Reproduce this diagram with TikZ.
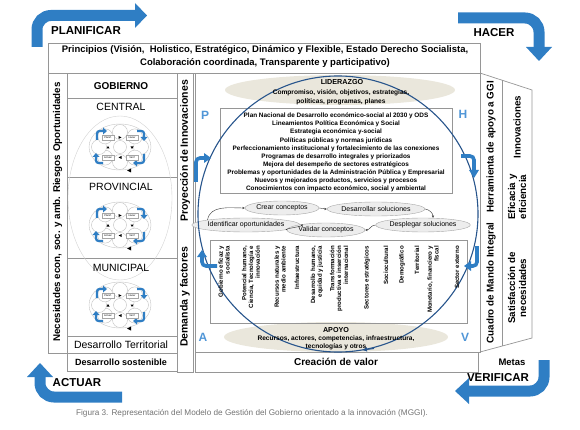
\documentclass[tikz,border=0pt]{standalone}
\usepackage{fontspec}
\setmainfont{Liberation Sans}
\usetikzlibrary{arrows.meta,shapes.geometric}
\definecolor{arrowblue}{RGB}{47,126,196}
\definecolor{letblue}{RGB}{80,150,215}
\definecolor{circblue}{RGB}{40,85,140}
\definecolor{beige}{RGB}{234,231,220}
\definecolor{procfill}{RGB}{237,237,237}
\definecolor{boxgray}{RGB}{150,150,150}
\definecolor{capgray}{RGB}{115,115,115}
\newcommand\fsz[2]{\fontsize{#1}{#2}\selectfont}
\newcommand\minicyc[3]{%
\begin{scope}[shift={(#2,#3)}]
 \draw[gray!45,line width=0.4pt,fill=white] (0,0) ellipse [x radius=31pt,y radius=23pt];
 \foreach \a in {0,45,...,315}
   \draw[gray!55,line width=0.35pt,fill=white] ({21*cos(\a)},{15*sin(\a)}) circle[radius=7.5pt];
 \draw[gray!55,line width=0.35pt,fill=white] (0,0) circle[radius=6.5pt];
 \draw[minihook] (-23,-7) -- (-23,-16) -- (-17,-16);
 \fill[arrowblue] (-17,-19.5) -- (-13,-16) -- (-17,-12.5) -- cycle;
 \draw[minihook] (17,-16) -- (24,-16) -- (24,-10);
 \fill[arrowblue] (20.5,-10) -- (24,-6) -- (27.5,-10) -- cycle;
 \draw[minihook] (24,7) -- (24,16) -- (17,16);
 \fill[arrowblue] (17,12.5) -- (13,16) -- (17,19.5) -- cycle;
 \draw[minihook] (-17,16) -- (-24,16) -- (-24,10);
 \fill[arrowblue] (-27.5,10) -- (-24,6) -- (-20.5,10) -- cycle;
 \node[minibox] (#1pl) at (-12,-9.5) {Planif.};
 \node[minibox] (#1ha) at (12,-9.5) {Hacer};
 \node[minibox] (#1ac) at (-12,10.5) {Actuar};
 \node[minibox] (#1ve) at (12,10.5) {Verif};
 \fill[black] (-1.5,-11) -- (1.5,-9.5) -- (-1.5,-8) -- cycle;
 \fill[black] (10.5,-0.5) -- (12,2) -- (13.5,-0.5) -- cycle;
 \fill[black] (1.5,9) -- (-1.5,10.5) -- (1.5,12) -- cycle;
 \fill[black] (-13.5,1.5) -- (-12,-1) -- (-10.5,1.5) -- cycle;
 \fill[black] (11,21.5) -- (7,23.5) -- (11,25.5) -- cycle;
\end{scope}}

\begin{document}
\begin{tikzpicture}[x=1pt,y=-1pt,
  frame/.style={draw=boxgray,line width=0.7pt},
  bigarrow/.style={draw=arrowblue,line width=11pt,rounded corners=14pt},
  hook/.style={draw=arrowblue,line width=3.6pt,rounded corners=4pt},
  minihook/.style={draw=arrowblue,line width=2.2pt,rounded corners=2.5pt},
  minibox/.style={draw=gray!70,fill=white,font=\fsz{2.6}{3},inner sep=0.5pt,minimum width=12pt,minimum height=5pt},
  phase/.style={font=\bfseries\fsz{11.5}{13},inner sep=0pt},
  vtext/.style={rotate=90,font=\bfseries\fsz{9.8}{11},inner sep=0pt},
  factor/.style={rotate=90,anchor=east,align=right,font=\bfseries\fsz{6.1}{6.8},inner sep=0pt},
  proc/.style={ellipse,draw=gray!70,fill=procfill,line width=0.4pt,inner sep=0pt,font=\fsz{7}{8}},
  parrow/.style={draw=black!80,line width=0.4pt,-{Stealth[length=2.5pt,width=2.2pt]}},
  lettr/.style={font=\bfseries\fsz{12}{14},text=letblue,inner sep=0pt}
]
\useasboundingbox (0,0) rectangle (580,430);

% ---------- frames ----------
\draw[frame] (48,43) rectangle (480,73);
\draw[frame] (48,73) rectangle (67,353);
\draw[frame] (67,73) rectangle (177,353);
\draw[frame] (67,98) -- (177,98);
\draw[frame] (67,177) -- (177,177);
\draw[frame] (67,258) -- (177,258);
\draw[frame] (67,336) -- (177,336);
\draw[frame] (67,353) rectangle (177,371);
\draw[frame] (177,73) rectangle (193,372);
\draw[frame] (195,73) rectangle (480,352);
\draw[frame] (195,352) rectangle (478,372);
\draw[frame] (480,73) -- (532,90) -- (532,338) -- (480,352);
\draw[frame] (502,80.2) -- (502,346.1);

% ---------- government mini cycles ----------
\draw[gray!35,line width=0.4pt] (120,198) ellipse [x radius=52pt,y radius=82pt];
\minicyc{c}{120}{147}
\minicyc{p}{120}{225}
\minicyc{m}{120}{305}

% ---------- central area ----------
\fill[beige] (340,90) ellipse [x radius=115pt,y radius=15pt];
\fill[beige] (336,337) ellipse [x radius=112pt,y radius=15pt];

\node[proc,minimum width=74pt,minimum height=14pt] (crear) at (282,208) {Crear conceptos};
\node[proc,minimum width=98pt,minimum height=14pt] (desar) at (376,209) {Desarrollar soluciones};
\node[proc,minimum width=83pt,minimum height=14pt] (idop) at (246,225) {Identificar oportunidades};
\node[proc,minimum width=76pt,minimum height=14pt] (valid) at (326,230) {Validar conceptos};
\node[proc,minimum width=93pt,minimum height=14pt] (despl) at (423,225) {Desplegar soluciones};

\draw[parrow] (idop.north west) to[out=80,in=180] (crear.west);
\draw[parrow] (crear.east) to[out=0,in=180] (desar.west);
\draw[parrow] (desar.east) to[out=-10,in=90] ([xshift=10pt]despl.north);
\draw[parrow] (despl.west) to[out=180,in=0] (valid.east);
\draw[parrow] (valid.west) to[out=170,in=-10] (idop.east);

\draw[frame,line width=0.6pt] (220,108) rectangle (452,193);
\draw[frame,line width=0.6pt] (210,240) rectangle (467,323);

\draw[circblue,line width=1.1pt] (338,214) ellipse [x radius=140pt,y radius=138pt];
\draw[circblue,line width=1.1pt,-{Latex[length=5pt,width=5pt]}] (374,348.5) -- (362,350);

\node[font=\bfseries\fsz{7.2}{8},inner sep=0pt] (lid) at (342,82) {LIDERAZGO};
\node[font=\bfseries\fsz{6.6}{9},align=center,inner sep=0pt] (lidt) at (341,97.5) {Compromiso, visión, objetivos, estrategias,\\políticas, programas, planes};

\node[font=\bfseries\fsz{6.4}{8.1},align=center,inner sep=0pt] (polit) at (336,152.5) {Plan Nacional de Desarrollo económico-social al 2030 y ODS\\
Lineamientos Política Económica y Social\\
Estrategia económica y-social\\
Políticas públicas y normas jurídicas\\
Perfeccionamiento institucional y fortalecimiento de las conexiones\\
Programas de desarrollo integrales y priorizados\\
Mejora del desempeño de sectores estratégicos\\
Problemas y oportunidades de la Administración Pública y Empresarial\\
Nuevos y mejorados productos, servicios y procesos\\
Conocimientos con impacto económico, social y ambiental};

\node[factor] (f1) at (224,246) {Gobierno eficaz y\\socialista};
\node[factor] (f2) at (251,246) {Potencial humano,\\Ciencia, Tecnología e\\innovación};
\node[factor] (f3) at (280,246) {Recursos naturales y\\medio ambiente};
\node[factor] (f4) at (297,246) {Infraestructura};
\node[factor] (f5) at (317,246) {Desarrollo humano,\\equidad y justicia};
\node[factor] (f6) at (339,246) {Transformación\\productiva e inserción\\internacional};
\node[factor] (f7) at (367,246) {Sectores estratégicos};
\node[factor] (f8) at (386,246) {Sociocultural};
\node[factor] (f9) at (402,246) {Demográfico};
\node[factor] (f10) at (417,246) {Territorial};
\node[factor] (f11) at (433,246) {Monetario, financiero y\\fiscal};
\node[factor] (f12) at (457,246) {Sector externo};

\node[font=\bfseries\fsz{7.2}{8},inner sep=0pt] (apoyo) at (336,330) {APOYO};
\node[font=\bfseries\fsz{6.6}{8},align=center,inner sep=0pt] (apoyot) at (336,343) {Recursos, actores, competencias, infraestructura,\\tecnologías y otros};

\node[lettr] (lp) at (205,115) {P};
\node[lettr] (lh) at (463,114) {H};
\node[lettr] (la) at (203,337) {A};
\node[lettr] (lv) at (465,337) {V};

% blue hooks
\draw[hook] (196,182) -- (196,158) -- (204,158);
\fill[arrowblue] (204,153) -- (211,158) -- (204,163) -- cycle;
\draw[hook] (461,156) -- (474,156) -- (474,170);
\fill[arrowblue] (469,170) -- (479,170) -- (474,178) -- cycle;
\draw[hook] (477,246) -- (477,266) -- (471,266);
\fill[arrowblue] (471,261) -- (471,271) -- (464,266) -- cycle;
\draw[hook] (217,266) -- (202,266) -- (202,257);
\fill[arrowblue] (197,257) -- (207,257) -- (202,250) -- cycle;

% ---------- texts in frames ----------
\node[font=\bfseries\fsz{9.5}{13},align=center,inner sep=0pt] (princ) at (265,56.5) {Principios (Visión,\ \ Holistico, Estratégico, Dinámico y Flexible, Estado Derecho Socialista,\\Colaboración coordinada, Transparente y participativo)};
\node[font=\bfseries\fsz{10}{12},inner sep=0pt] (gob) at (121,86) {GOBIERNO};
\node[font=\fsz{10.5}{12},inner sep=0pt] (central) at (121,107) {CENTRAL};
\node[font=\fsz{10.5}{12},inner sep=0pt] (prov) at (121,187) {PROVINCIAL};
\node[font=\fsz{10.5}{12},inner sep=0pt] (muni) at (121,268) {MUNICIPAL};
\node[font=\fsz{10.5}{12},inner sep=0pt] (dterr) at (121,345) {Desarrollo Territorial};
\node[font=\bfseries\fsz{9}{11},inner sep=0pt] (dsost) at (121,362) {Desarrollo sostenible};

\node[vtext] (nec) at (57.5,212) {Necesidades econ, soc. y amb. Riesgos Oportunidades};
\node[vtext,font=\bfseries\fsz{10.5}{12}] (proy) at (185,151) {Proyección de Innovaciones};
\node[vtext,font=\bfseries\fsz{10.5}{12}] (dem) at (185,297) {Demanda y factores};
\node[vtext] (herr) at (491,147) {Herramienta de apoyo a GGI};
\node[vtext] (cuad) at (491,283) {Cuadro de Mando Integral};
\node[vtext] (innov) at (517,127) {Innovaciones};
\node[vtext,align=center] (efic) at (517,197) {Eficacia y\\eficiencia};
\node[vtext,align=center] (satis) at (517,288) {Satisfacción de\\necesidades};

\node[font=\bfseries\fsz{9.5}{11},inner sep=0pt] (metas) at (512,362) {Metas};
\node[font=\bfseries\fsz{10}{12},inner sep=0pt] (crea) at (336,362) {Creación de valor};

% ---------- PDCA arrows ----------
\draw[bigarrow] (37,47) -- (37,15.5) -- (136,15.5);
\fill[arrowblue] (135,3) -- (147,15.5) -- (135,28) -- cycle;
\draw[bigarrow] (458,18) -- (539,18) -- (539,48);
\fill[arrowblue] (526,47) -- (552,47) -- (539,61) -- cycle;
\draw[bigarrow] (544,360) -- (544,391) -- (468,391);
\fill[arrowblue] (469,378) -- (469,404) -- (455,391) -- cycle;
\draw[bigarrow] (122,397) -- (40,397) -- (40,376);
\fill[arrowblue] (27,377) -- (53,377) -- (40,363) -- cycle;

\node[phase] (plan) at (86,31) {PLANIFICAR};
\node[phase] (hacer) at (494,33) {HACER};
\node[phase] (verif) at (498,378) {VERIFICAR};
\node[phase] (actuar) at (77,383) {ACTUAR};

\node[font=\fsz{8.2}{9},text=capgray,inner sep=0pt] (cap) at (252,413) {Figura 3. Representación del Modelo de Gestión del Gobierno orientado a la innovación (MGGI).};
\end{tikzpicture}
\end{document}
